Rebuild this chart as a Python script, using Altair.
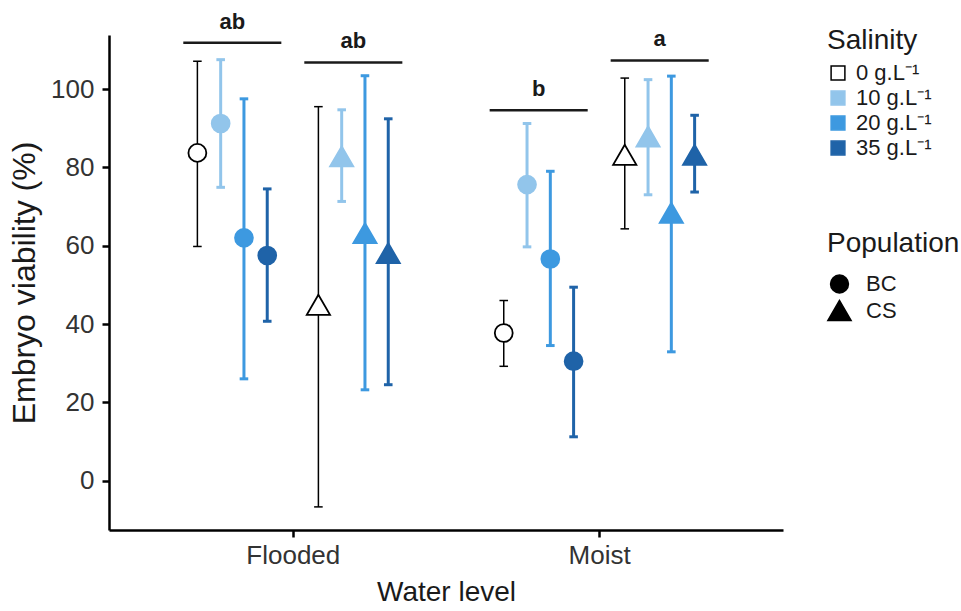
import altair as alt
import pandas as pd

# ---------------- data ----------------
water = ["Flooded", "Moist"]
population = ["BC", "CS"]
salinity = ["0 g.L⁻¹", "10 g.L⁻¹", "20 g.L⁻¹", "35 g.L⁻¹"]

flooded_bc_mean = [83.7, 91.2, 62.0, 57.5]
flooded_bc_low = [59.8, 74.9, 26.0, 40.7]
flooded_bc_high = [107.1, 107.5, 97.5, 74.5]

flooded_cs_mean = [44.9, 82.8, 63.2, 58.1]
flooded_cs_low = [-6.7, 71.3, 23.2, 24.5]
flooded_cs_high = [95.5, 94.7, 103.4, 92.4]

moist_bc_mean = [37.7, 75.6, 56.6, 30.5]
moist_bc_low = [29.2, 59.7, 34.5, 11.2]
moist_bc_high = [46.0, 91.2, 79.0, 49.4]

moist_cs_mean = [83.2, 87.9, 68.4, 83.2]
moist_cs_low = [64.3, 73.0, 32.9, 73.7]
moist_cs_high = [102.8, 102.4, 103.3, 93.3]

sig_water = ["Flooded", "Flooded", "Moist", "Moist"]
sig_pop = ["BC", "CS", "BC", "CS"]
sig_label = ["ab", "ab", "b", "a"]
sig_y = [111.8, 106.8, 94.6, 107.3]

y_ticks = [0, 20, 40, 60, 80, 100]

# ---------------- tables ----------------
groups = {
    ("Flooded", "BC"): (flooded_bc_mean, flooded_bc_low, flooded_bc_high),
    ("Flooded", "CS"): (flooded_cs_mean, flooded_cs_low, flooded_cs_high),
    ("Moist", "BC"): (moist_bc_mean, moist_bc_low, moist_bc_high),
    ("Moist", "CS"): (moist_cs_mean, moist_cs_low, moist_cs_high),
}
rows = []
for (w, p), (m, lo, hi) in groups.items():
    for i, s in enumerate(salinity):
        rows.append(dict(water=w, pop=p, sal=s, mean=m[i], lo=lo[i], hi=hi[i],
                         wi=water.index(w) + 1, pi=population.index(p), si=i))
df = pd.DataFrame(rows)

sig = pd.DataFrame(dict(water=sig_water, pop=sig_pop, label=sig_label, yv=sig_y))
sig["wi"] = [water.index(w) + 1 for w in sig_water]
sig["pi"] = [population.index(p) for p in sig_pop]

# dodge styling (in x-scale units)
G = 0.1975   # population group offset from water-level centre
D = 0.076    # salinity step
CAP = 0.014  # half width of error-bar caps
HW = 0.16    # half width of significance lines

x_scale = alt.Scale(domain=[0.4, 2.6], nice=False, zero=False)
y_scale = alt.Scale(domain=[-12.6, 113.8], nice=False, zero=False)

label_expr = "[" + ",".join("'%s'" % w for w in water) + "][datum.value - 1]"
x_axis = alt.Axis(values=[1, 2], labelExpr=label_expr, title="Water level",
                  labelPadding=5, titlePadding=10)
y_axis = alt.Axis(values=y_ticks, title="Embryo viability (%)",
                  labelPadding=8, titlePadding=9, titleFontSize=32)

colors = ["#92c5eb", "#3d99e0", "#1f63a8"]
fill_scale = alt.Scale(domain=salinity, range=["white"] + colors)
stroke_scale = alt.Scale(domain=salinity, range=["black"] + colors)

sal_legend = alt.Legend(title="Salinity", orient="none", legendX=718, legendY=-8,
                        symbolType="square", symbolSize=190, symbolStrokeWidth=1.5,
                        labelFontSize=22, titleFontSize=28, rowPadding=3,
                        titlePadding=7, labelOffset=7)
pop_legend = alt.Legend(title="Population", orient="none", legendX=718, legendY=195,
                        symbolSize=290, symbolFillColor="black", symbolStrokeColor="black",
                        labelFontSize=22, titleFontSize=28, rowPadding=1,
                        titlePadding=15, labelOffset=14)

xpos_expr = "datum.wi + (2 * datum.pi - 1) * %f + (datum.si - 1.5) * %f" % (G, D)
base = alt.Chart(df).transform_calculate(xpos=xpos_expr).transform_calculate(
    xa="datum.xpos - %f" % CAP, xb="datum.xpos + %f" % CAP)

zero_only = alt.datum.si == 0
salted = alt.datum.si > 0


def bar_layers(flt, width):
    enc_stroke = alt.Stroke("sal:N", scale=stroke_scale, legend=sal_legend)
    b = base.transform_filter(flt)
    bars = b.mark_rule(strokeWidth=width).encode(
        x=alt.X("xpos:Q", scale=x_scale, axis=x_axis),
        y=alt.Y("lo:Q", scale=y_scale, axis=y_axis),
        y2="hi:Q", stroke=enc_stroke)
    lo = b.mark_rule(strokeWidth=width).encode(
        x=alt.X("xa:Q", scale=x_scale, axis=x_axis), x2="xb:Q",
        y=alt.Y("lo:Q", scale=y_scale, axis=y_axis), stroke=enc_stroke)
    hi = b.mark_rule(strokeWidth=width).encode(
        x=alt.X("xa:Q", scale=x_scale, axis=x_axis), x2="xb:Q",
        y=alt.Y("hi:Q", scale=y_scale, axis=y_axis), stroke=enc_stroke)
    return [bars, lo, hi]


points = base.mark_point(filled=True, opacity=1, strokeWidth=1.8).encode(
    x=alt.X("xpos:Q", scale=x_scale, axis=x_axis),
    y=alt.Y("mean:Q", scale=y_scale, axis=y_axis),
    fill=alt.Fill("sal:N", scale=fill_scale, legend=sal_legend),
    stroke=alt.Stroke("sal:N", scale=stroke_scale, legend=sal_legend),
    shape=alt.Shape("pop:N", scale=alt.Scale(domain=population, range=["circle", "triangle-up"]),
                    legend=pop_legend),
    size=alt.Size("pop:N", scale=alt.Scale(domain=population, range=[320, 540]),
                  legend=pop_legend),
)

sig_base = alt.Chart(sig).transform_calculate(
    cx="datum.wi + (2 * datum.pi - 1) * %f" % G).transform_calculate(
    x1="datum.cx - %f" % HW, x2="datum.cx + %f" % HW)
sig_lines = sig_base.mark_rule(color="#1a1a1a", strokeWidth=2.5).encode(
    x=alt.X("x1:Q", scale=x_scale, axis=x_axis), x2="x2:Q",
    y=alt.Y("yv:Q", scale=y_scale, axis=y_axis),
)
sig_text = sig_base.mark_text(fontSize=22, fontWeight="bold", color="#1a1a1a",
                              dy=-21, font="Liberation Sans").encode(
    x=alt.X("cx:Q", scale=x_scale, axis=x_axis),
    y=alt.Y("yv:Q", scale=y_scale, axis=y_axis),
    text="label:N",
)

# error bars beneath the points
layers = bar_layers(zero_only, 1.5) + bar_layers(salted, 3) + [points, sig_lines, sig_text]

chart = alt.layer(*layers).properties(
    width=674, height=495,
    autosize=alt.AutoSizeParams(type="none"),
    padding={"left": 109, "top": 35, "right": 178, "bottom": 81},
).configure_view(stroke=None).configure_axis(
    grid=False, domainColor="black", domainWidth=2.5, tickColor="black",
    tickWidth=2.5, tickSize=7, labelFont="Liberation Sans", labelFontSize=26,
    labelColor="#333333", titleFont="Liberation Sans", titleFontSize=28,
    titleColor="#1a1a1a", titleFontWeight="normal",
).configure_legend(
    labelFont="Liberation Sans", titleFont="Liberation Sans", titleFontWeight="normal",
    labelColor="#1a1a1a", titleColor="#1a1a1a", padding=0,
)

chart.save("out.html", embed_options={"renderer": "svg", "actions": False})
